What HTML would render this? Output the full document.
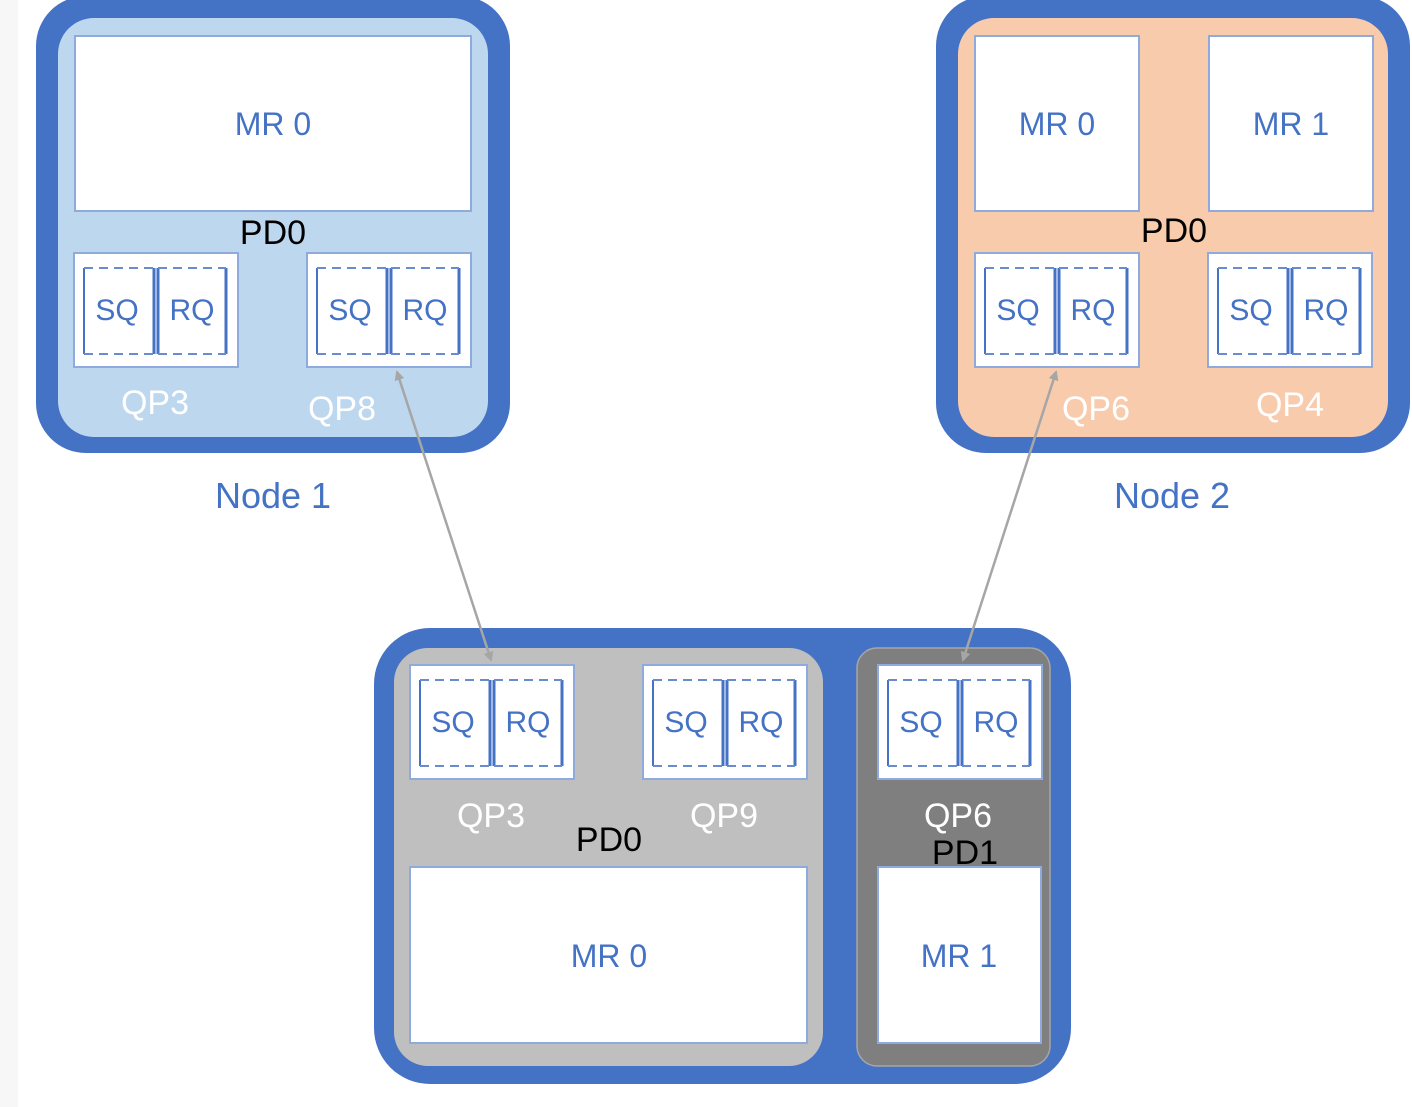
<!DOCTYPE html>
<html><head><meta charset="utf-8"><style>
html,body{margin:0;padding:0;background:#fff;}
svg{display:block;font-family:"Liberation Sans",sans-serif;}
</style></head><body>
<svg width="1412" height="1107" viewBox="0 0 1412 1107" xmlns="http://www.w3.org/2000/svg">
<defs>
<g id="qp">
  <rect x="0" y="0" width="164" height="114" fill="#fff" stroke="#8faadc" stroke-width="2"/>
  <g fill="none" stroke="#4472c4" stroke-width="2">
    <line x1="10" y1="15" x2="10" y2="101"/>
    <line x1="80" y1="15" x2="80" y2="101" stroke-width="3"/>
    <line x1="10" y1="15" x2="80" y2="15" stroke-dasharray="9,6" stroke="#6a8ccf"/>
    <line x1="10" y1="101" x2="80" y2="101" stroke-dasharray="9,6" stroke="#6a8ccf"/>
    <line x1="84" y1="15" x2="84" y2="101" stroke-width="3"/>
    <line x1="152" y1="15" x2="152" y2="101" stroke-width="3"/>
    <line x1="84" y1="15" x2="152" y2="15" stroke-dasharray="9,6" stroke="#6a8ccf"/>
    <line x1="84" y1="101" x2="152" y2="101" stroke-dasharray="9,6" stroke="#6a8ccf"/>
  </g>
  <text x="43" y="67" font-size="30" fill="#4472c4" text-anchor="middle">SQ</text>
  <text x="118" y="67" font-size="30" fill="#4472c4" text-anchor="middle">RQ</text>
</g>
<marker id="ah" markerWidth="10" markerHeight="10" refX="8" refY="5" orient="auto-start-reverse" markerUnits="userSpaceOnUse" viewBox="0 0 10 10">
  <path d="M0,0 L10,5 L0,10 z" fill="#a6a6a6"/>
</marker>
</defs>
<rect x="0" y="0" width="18" height="1107" fill="#f7f7f7"/>

<!-- Node 1 -->
<rect x="36" y="-4" width="474" height="457" rx="50" fill="#4472c4"/>
<rect x="58" y="18" width="430" height="419" rx="36" fill="#bdd7ee"/>
<rect x="75" y="36" width="396" height="175" fill="#fff" stroke="#8faadc" stroke-width="2"/>
<text x="273" y="135" font-size="32" fill="#4472c4" text-anchor="middle">MR 0</text>
<text x="273" y="244" font-size="34" fill="#000" text-anchor="middle">PD0</text>
<use href="#qp" x="74" y="253"/>
<use href="#qp" x="307" y="253"/>
<text x="155" y="414" font-size="34" fill="#fff" text-anchor="middle">QP3</text>
<text x="342" y="420" font-size="34" fill="#fff" text-anchor="middle">QP8</text>
<text x="273" y="508" font-size="36" fill="#4472c4" text-anchor="middle">Node 1</text>

<!-- Node 2 -->
<rect x="936" y="-4" width="474" height="457" rx="50" fill="#4472c4"/>
<rect x="958" y="18" width="430" height="419" rx="36" fill="#f8cbad"/>
<rect x="975" y="36" width="164" height="175" fill="#fff" stroke="#8faadc" stroke-width="2"/>
<rect x="1209" y="36" width="164" height="175" fill="#fff" stroke="#8faadc" stroke-width="2"/>
<text x="1057" y="135" font-size="32" fill="#4472c4" text-anchor="middle">MR 0</text>
<text x="1291" y="135" font-size="32" fill="#4472c4" text-anchor="middle">MR 1</text>
<text x="1174" y="242" font-size="34" fill="#000" text-anchor="middle">PD0</text>
<use href="#qp" x="975" y="253"/>
<use href="#qp" x="1208" y="253"/>
<text x="1096" y="420" font-size="34" fill="#fff" text-anchor="middle">QP6</text>
<text x="1290" y="416" font-size="34" fill="#fff" text-anchor="middle">QP4</text>
<text x="1172" y="508" font-size="36" fill="#4472c4" text-anchor="middle">Node 2</text>

<!-- Bottom node -->
<rect x="374" y="628" width="697" height="456" rx="56" fill="#4472c4"/>
<rect x="394" y="648" width="429" height="418" rx="34" fill="#bfbfbf"/>
<rect x="857" y="648" width="193" height="418" rx="20" fill="#7f7f7f" stroke="#a6a6a6" stroke-width="1.5"/>
<use href="#qp" x="410" y="665"/>
<use href="#qp" x="643" y="665"/>
<use href="#qp" x="878" y="665"/>
<rect x="410" y="867" width="397" height="176" fill="#fff" stroke="#8faadc" stroke-width="2"/>
<rect x="878" y="867" width="163" height="176" fill="#fff" stroke="#8faadc" stroke-width="2"/>
<text x="609" y="967" font-size="32" fill="#4472c4" text-anchor="middle">MR 0</text>
<text x="959" y="967" font-size="32" fill="#4472c4" text-anchor="middle">MR 1</text>
<text x="491" y="827" font-size="34" fill="#fff" text-anchor="middle">QP3</text>
<text x="724" y="827" font-size="34" fill="#fff" text-anchor="middle">QP9</text>
<text x="609" y="851" font-size="34" fill="#000" text-anchor="middle">PD0</text>
<text x="958" y="827" font-size="34" fill="#fff" text-anchor="middle">QP6</text>
<text x="965" y="864" font-size="34" fill="#000" text-anchor="middle">PD1</text>

<!-- arrows -->
<line x1="397" y1="372" x2="491" y2="660" stroke="#a6a6a6" stroke-width="2.5" marker-start="url(#ah)" marker-end="url(#ah)"/>
<line x1="1056" y1="372" x2="963" y2="660" stroke="#a6a6a6" stroke-width="2.5" marker-start="url(#ah)" marker-end="url(#ah)"/>
</svg>
</body></html>
